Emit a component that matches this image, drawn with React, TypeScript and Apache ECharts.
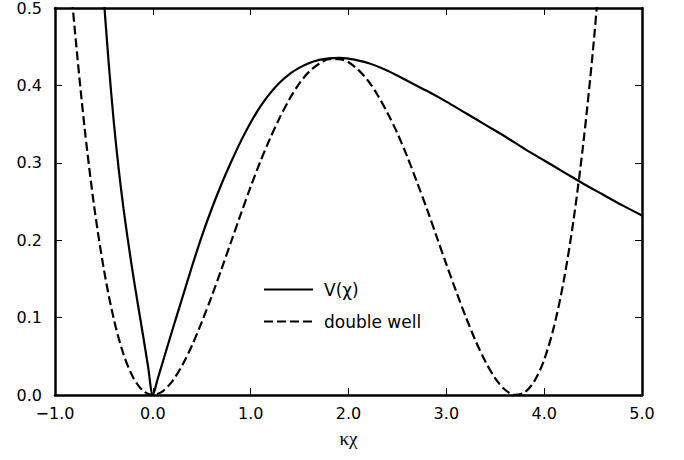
import React, { useEffect, useRef } from "react";
import * as echarts from "echarts";

// V(χ) — solid curve
const vChiX = [
  -0.52, -0.5, -0.45, -0.4, -0.35, -0.3, -0.25, -0.2, -0.15, -0.1, -0.05, 0,
  0.05, 0.1, 0.2, 0.3, 0.4, 0.5, 0.6, 0.7, 0.8, 0.9, 1.0, 1.1, 1.2, 1.3, 1.4,
  1.5, 1.6, 1.7, 1.8, 1.9, 2.0, 2.2, 2.4, 2.6, 2.8, 3.0, 3.2, 3.4, 3.6,
  3.8, 4.0, 4.2, 4.4, 4.6, 4.8, 5.0,
];
const vChiY = [
  0.545, 0.51, 0.427, 0.354, 0.293, 0.241, 0.196, 0.154, 0.115, 0.077, 0.038,
  0, 0.021, 0.042, 0.084, 0.125, 0.166, 0.205, 0.24, 0.272, 0.301, 0.328, 0.352,
  0.373, 0.39, 0.404, 0.415, 0.423, 0.429, 0.433, 0.435, 0.4355, 0.4345,
  0.429, 0.419, 0.406, 0.393, 0.379, 0.364, 0.349, 0.334, 0.318, 0.303,
  0.288, 0.273, 0.259, 0.245, 0.232,
];

// double well — dashed curve
const wellX = [
  -0.9, -0.85, -0.8, -0.7, -0.6, -0.5, -0.4, -0.3, -0.2, -0.1, 0, 0.1, 0.2,
  0.3, 0.4, 0.5, 0.6, 0.7, 0.8, 0.9, 1.0, 1.1, 1.2, 1.3, 1.4, 1.5, 1.6, 1.7,
  1.8, 1.9, 2.0, 2.1, 2.2, 2.3, 2.4, 2.5, 2.6, 2.7, 2.8, 2.9, 3.0, 3.1, 3.2,
  3.3, 3.4, 3.5, 3.6, 3.7, 3.8, 3.9, 4.0, 4.1, 4.2, 4.3, 4.4, 4.5, 4.6,
];
const wellY = [
  0.628, 0.548, 0.475, 0.348, 0.244, 0.162, 0.0986, 0.0528, 0.0223, 0.0053,
  0, 0.0048, 0.018, 0.0382, 0.064, 0.0941, 0.127, 0.162, 0.198, 0.234,
  0.269, 0.302, 0.332, 0.359, 0.383, 0.403, 0.418, 0.428, 0.434, 0.434,
  0.43, 0.42, 0.406, 0.387, 0.364, 0.338, 0.308, 0.275, 0.241, 0.205,
  0.169, 0.134, 0.1005, 0.0697, 0.043, 0.0215, 0.0068, 0.0002, 0.0034,
  0.0179, 0.0455, 0.0881, 0.1475, 0.2258, 0.325, 0.447, 0.595,
];

const seriesNames = ["V(χ)", "double well"];
const xAxisName = "κχ";
const xRange = [-1, 5];
const yRange = [0, 0.5];

const pairs = (xs: number[], ys: number[]) => xs.map((x, i) => [x, ys[i]]);

const fmt = (v: number) =>
  v < 0 ? "\u2212" + Math.abs(v).toFixed(1) : v.toFixed(1);

export default function App() {
  const ref = useRef<HTMLDivElement>(null);

  useEffect(() => {
    if (!ref.current) return;
    const chart = echarts.init(ref.current, undefined, { renderer: "svg" });
    const axisLine = {
      show: true,
      onZero: false,
      lineStyle: { color: "#000", width: 2.5 },
    };
    const axisTick = {
      show: true,
      inside: true,
      length: 7,
      lineStyle: { color: "#000", width: 1 },
    };
    const labelStyle = {
      color: "#000",
      fontSize: 16,
      fontFamily: "DejaVu Sans",
    };
    chart.setOption({
      animation: false,
      backgroundColor: "#fff",
      grid: { left: 55, right: 42, top: 8, bottom: 65 },
      legend: {
        orient: "vertical",
        left: 258,
        top: 276,
        itemWidth: 49,
        itemHeight: 14,
        itemGap: 15,
        selectedMode: false,
        data: seriesNames,
        itemStyle: { opacity: 0 },
        textStyle: {
          color: "#000",
          fontSize: 17,
          fontFamily: "DejaVu Sans",
          padding: [0, 0, 0, 6],
        },
      },
      xAxis: [
        {
          type: "value",
          min: xRange[0],
          max: xRange[1],
          interval: 1,
          position: "bottom",
          axisLine,
          axisTick,
          splitLine: { show: false },
          axisLabel: { ...labelStyle, margin: 10, formatter: fmt },
          name: xAxisName,
          nameLocation: "middle",
          nameGap: 34,
          nameTextStyle: {
            color: "#000",
            fontSize: 19,
            fontFamily: "Liberation Serif",
          },
        },
        {
          type: "value",
          min: xRange[0],
          max: xRange[1],
          interval: 1,
          position: "top",
          axisLine,
          axisTick,
          splitLine: { show: false },
          axisLabel: { show: false },
        },
      ],
      yAxis: [
        {
          type: "value",
          min: yRange[0],
          max: yRange[1],
          interval: 0.1,
          position: "left",
          axisLine,
          axisTick,
          splitLine: { show: false },
          axisLabel: { ...labelStyle, margin: 13, formatter: fmt },
        },
        {
          type: "value",
          min: yRange[0],
          max: yRange[1],
          interval: 0.1,
          position: "right",
          axisLine,
          axisTick,
          splitLine: { show: false },
          axisLabel: { show: false },
        },
      ],
      series: [
        {
          name: seriesNames[0],
          type: "line",
          data: pairs(vChiX, vChiY),
          symbol: "none",
          smooth: 0.3,
          clip: true,
          lineStyle: { color: "#000", width: 2.2, type: "solid" },
          itemStyle: { color: "#000" },
        },
        {
          name: seriesNames[1],
          type: "line",
          data: pairs(wellX, wellY),
          symbol: "none",
          smooth: 0.3,
          clip: true,
          lineStyle: { color: "#000", width: 2.2, type: [9, 4] },
          itemStyle: { color: "#000" },
        },
      ],
    });
    return () => chart.dispose();
  }, []);

  return (
    <div
      ref={ref}
      style={{ position: "fixed", left: 0, top: 0, width: 684, height: 460 }}
    />
  );
}
